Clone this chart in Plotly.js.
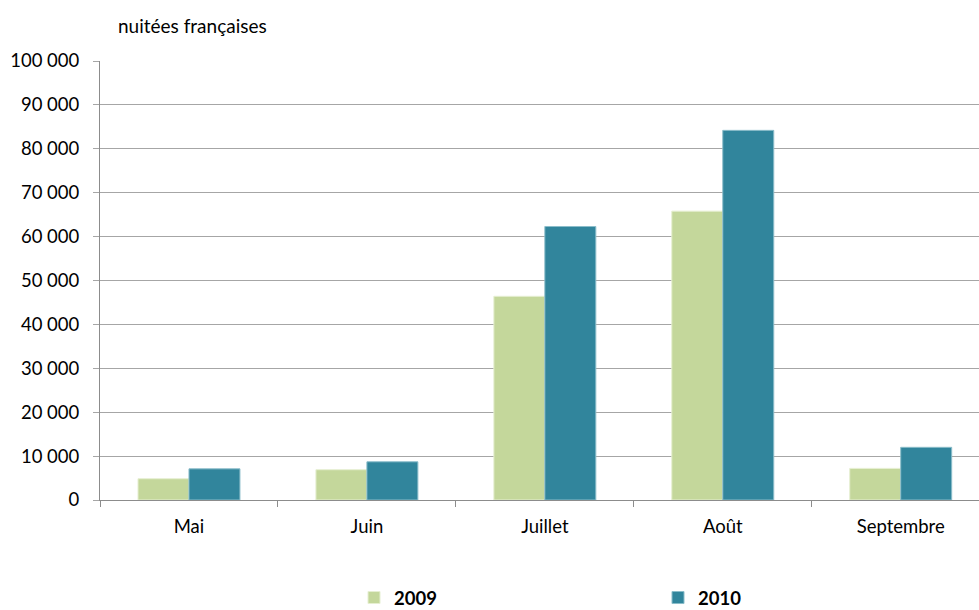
<!DOCTYPE html>
<html><head><meta charset="utf-8">
<script src="https://cdn.plot.ly/plotly-3.0.1.min.js"></script>
<style>html,body{margin:0;padding:0;background:#fff}#chart{width:979px;height:610px}</style>
</head><body><div id="chart"></div>
<script>
const categories = ["Mai", "Juin", "Juillet", "Août", "Septembre"];
const values2009 = [4850, 6900, 46400, 65800, 7200];
const values2010 = [7100, 8700, 62300, 84200, 12000];
const seriesNames = ["2009", "2010"];
const yTickVals = [0, 10000, 20000, 30000, 40000, 50000, 60000, 70000, 80000, 90000, 100000];
const yTickText = ["0", "10 000", "20 000", "30 000", "40 000", "50 000", "60 000", "70 000", "80 000", "90 000", "100 000"];
const yTitle = "nuitées françaises";

const FONT = "Lato, 'Open Sans', sans-serif";
const traces = [
  {type: "bar", name: seriesNames[0], x: categories, y: values2009,
   marker: {color: "#C4D79B", line: {color: "#E6EFD2", width: 1}}},
  {type: "bar", name: seriesNames[1], x: categories, y: values2010,
   marker: {color: "#31859C", line: {color: "#8BBDCA", width: 1}}}
];
const layout = {
  width: 979, height: 610,
  margin: {l: 100, r: 0, t: 61, b: 110},
  paper_bgcolor: "#fff", plot_bgcolor: "#fff",
  font: {family: FONT, size: 18.5, color: "#000"},
  barmode: "group", bargap: 0.427, bargroupgap: 0,
  showlegend: true,
  legend: {orientation: "h", xref: "container", yref: "container",
           x: 354 / 979, xanchor: "left", y: (610 - 598) / 610, yanchor: "middle",
           font: {family: FONT, size: 18.5, color: "#000", weight: "bold"},
           entrywidth: 259, entrywidthmode: "pixels", traceorder: "normal",
           bgcolor: "rgba(0,0,0,0)"},
  xaxis: {type: "category", range: [-0.5, 4.44], showgrid: false, showline: true,
          linecolor: "#8C8C8C", linewidth: 1, ticks: "outside", tickson: "boundaries",
          ticklen: 6, tickcolor: "#8C8C8C", ticklabelstandoff: 10,
          tickfont: {family: FONT, size: 18.5, color: "#000"},
          fixedrange: true, automargin: false},
  yaxis: {range: [0, 100000], tickvals: yTickVals, ticktext: yTickText,
          showgrid: true, gridcolor: "#A6A6A6", gridwidth: 1, zeroline: false,
          showline: true, linecolor: "#8C8C8C", linewidth: 1,
          ticks: "outside", ticklen: 6, tickcolor: "#A6A6A6",
          ticklabelstandoff: 10, automargin: false,
          tickfont: {family: FONT, size: 18.5, color: "#000"}, fixedrange: true},
  annotations: [{text: yTitle, xref: "paper", yref: "paper", x: (116 - 100) / 879, y: 1 + (61 - 25) / 439,
                 xanchor: "left", yanchor: "middle", showarrow: false,
                 font: {family: FONT, size: 19, color: "#000"}}]
};
Plotly.newPlot("chart", traces, layout, {displayModeBar: false, staticPlot: true});
</script></body></html>
